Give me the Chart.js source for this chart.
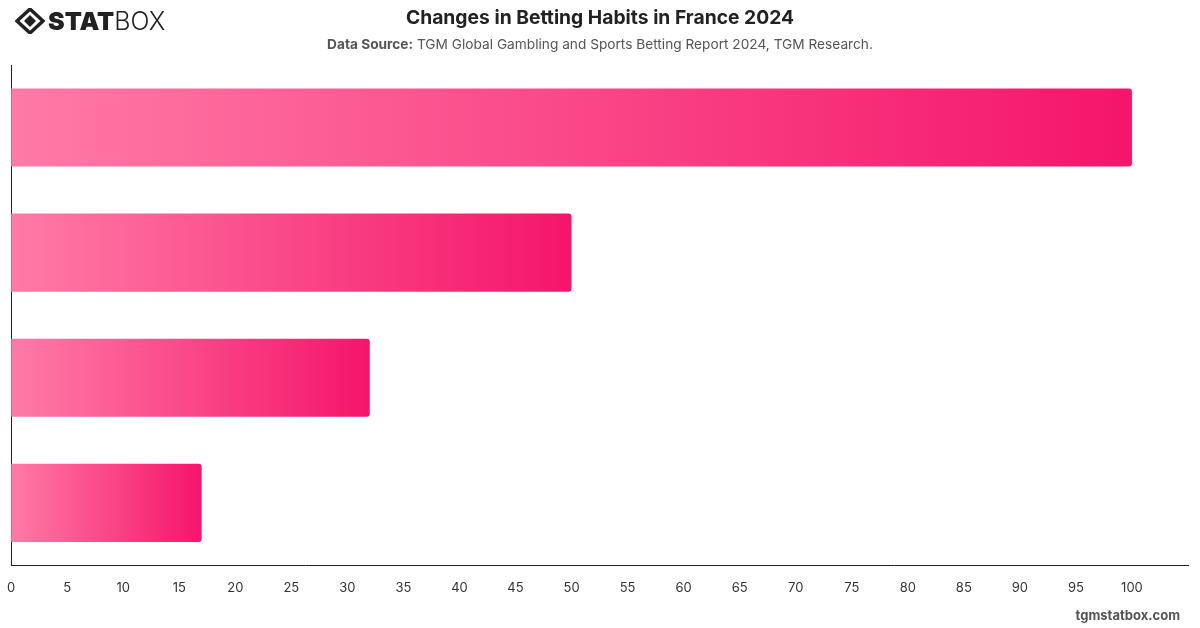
<!DOCTYPE html>
<html>
<head>
<meta charset="utf-8">
<script src="https://cdn.jsdelivr.net/npm/chart.js@4.4.1/dist/chart.umd.min.js"></script>
<style>
  html,body{margin:0;padding:0;background:#fff;}
  #wrap{position:relative;width:1200px;height:628px;overflow:hidden;font-family:Inter,"Noto Sans",sans-serif;}
  #c{position:absolute;left:0;top:0;}
  #title{position:absolute;left:0;width:1200px;top:5px;text-align:center;font-size:19.3px;font-weight:700;color:#222;}
  #sub{position:absolute;left:0;width:1200px;top:36px;text-align:center;font-size:13.7px;color:#555;}
  #sub b{font-weight:700;}
  #foot{position:absolute;right:20px;top:607px;font-size:13px;font-weight:700;color:#555;}
  #logo{position:absolute;left:15px;top:7px;height:28px;display:flex;align-items:center;font-size:25px;color:#222;letter-spacing:0px;}
  #logo .s{font-weight:900;}
  #logo .b{font-weight:300;}
</style>
</head>
<body>
<div id="wrap">
  <canvas id="c" width="1200" height="628"></canvas>
  <div id="logo"><svg width="30" height="26" viewBox="0 0 30 26" style="margin-right:3px"><polygon points="15,1 28,13 15,25 2,13" fill="none" stroke="#222" stroke-width="3.5"/><polygon points="15,7 21,13 15,19 9,13" fill="#222"/></svg><span class="s">STAT</span><span class="b">BOX</span></div>
  <div id="title">Changes in Betting Habits in France 2024</div>
  <div id="sub"><b>Data Source:</b> TGM Global Gambling and Sports Betting Report 2024, TGM Research.</div>
  <div id="foot">tgmstatbox.com</div>
</div>
<script>
const categories = ["Category 1", "Category 2", "Category 3", "Category 4"];
const values = [100, 50, 32, 17];
const xMax = 105;
const tickStep = 5;

function barGradient(context) {
  const chart = context.chart;
  const xs = chart.scales && chart.scales.x;
  if (!xs || context.raw === undefined) return '#F7246F';
  const x0 = xs.getPixelForValue(0);
  const x1 = xs.getPixelForValue(context.raw);
  if (!isFinite(x0) || !isFinite(x1) || x1 === x0) return '#F7246F';
  const g = chart.ctx.createLinearGradient(x0, 0, x1, 0);
  g.addColorStop(0, '#FF7AA6');
  g.addColorStop(1, '#F5156A');
  return g;
}

new Chart(document.getElementById('c'), {
  type: 'bar',
  data: {
    labels: categories,
    datasets: [{
      data: values,
      backgroundColor: barGradient,
      borderRadius: 3,
      borderSkipped: 'start',
      barPercentage: 0.78,
      categoryPercentage: 0.8
    }]
  },
  options: {
    indexAxis: 'y',
    responsive: false,
    animation: false,
    layout: { autoPadding: false, padding: { top: 65, left: 3, right: 12, bottom: 25 } },
    plugins: { legend: { display: false }, tooltip: { enabled: false }, title: { display: false } },
    scales: {
      x: {
        min: 0, max: xMax,
        grid: { display: false, drawTicks: true, tickLength: 8 },
        border: { display: true, color: '#222', width: 1 },
        ticks: {
          stepSize: tickStep,
          padding: 7,
          color: '#333',
          font: { family: 'Inter', size: 13 },
          callback: (v) => v > 100 ? '' : v
        }
      },
      y: {
        grid: { display: false, drawTicks: false },
        border: { display: true, color: '#222', width: 1 },
        ticks: { display: false },
        afterFit: (scale) => { scale.width = 0; }
      }
    }
  }
});
</script>
</body>
</html>
